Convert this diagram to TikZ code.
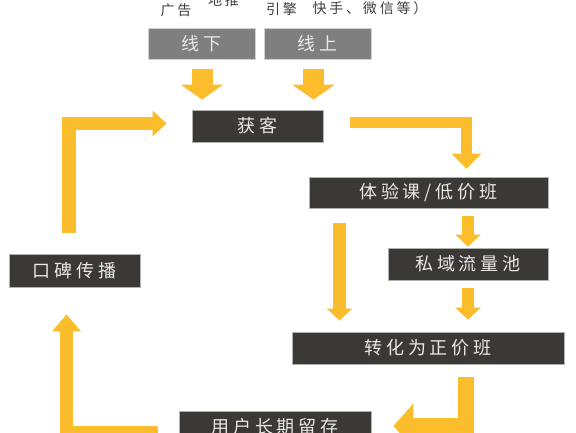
\documentclass[tikz,border=0pt]{standalone}
\usepackage{fontspec}
\setmainfont{Noto Sans CJK SC}
\newfontfamily\boxfont[LetterSpace=22]{Noto Sans CJK SC}
\newfontfamily\topfont[LetterSpace=20]{Noto Sans CJK SC}
\usetikzlibrary{arrows.meta,calc}
\definecolor{yel}{HTML}{FBBD2C}
\definecolor{boxdark}{HTML}{3B3936}
\definecolor{boxgray}{HTML}{7F7F7F}
\definecolor{boxtext}{HTML}{E8E8E8}
\definecolor{toptext}{HTML}{404040}
\begin{document}
\begin{tikzpicture}[x=1pt,y=-1pt,
  darkbox/.style={draw=gray!60, line width=0.8pt, fill=boxdark, text=boxtext, inner sep=0pt,
    font=\boxfont\fontsize{18}{18}\selectfont},
  graybox/.style={darkbox, fill=boxgray, draw=gray!35},
  toplabel/.style={text=toptext, inner sep=0pt, font=\topfont\fontsize{14}{14}\selectfont},
  yarr/.style={draw=yel, line join=miter}]
\useasboundingbox (0,0) rectangle (576,432);
\clip (0,0) rectangle (576,432);
\fill[white] (0,0) rectangle (576,432);

% top labels
\node[toplabel] (gg) at (176,10) {广告};
\node[toplabel] (dt) at (223.5,0) {地推};
\node[toplabel] (yq) at (281.5,9) {引擎};
\node[toplabel] (ks) at (370,8) {快手、微信等）};

% boxes
\node[graybox, minimum width=107pt, minimum height=31pt] (xx) at (201.5,43.5) {线下};
\node[graybox, minimum width=107pt, minimum height=31pt] (xs) at (317.5,43.5) {线上};
\node[darkbox, minimum width=131pt, minimum height=32pt] (hk) at (257.5,126) {获客};
\node[darkbox, minimum width=239pt, minimum height=31pt] (ty) at (428.5,192.5) {体验课/低价班};
\node[darkbox, minimum width=160pt, minimum height=32pt] (sy) at (468,264) {私域流量池};
\node[darkbox, minimum width=272pt, minimum height=32pt] (zh) at (428,348) {转化为正价班};
\node[darkbox, minimum width=192pt, minimum height=32pt] (yh) at (275,427) {用户长期留存};
\node[darkbox, minimum width=131pt, minimum height=33pt] (kb) at (74.5,270.5) {口碑传播};

% arrows
\draw[yarr, line width=21pt, -{Triangle[length=15pt,width=42pt]}]
  ($(xx.south)+(0.5,10)$) -- ($(hk.north)+(-55.5,-10)$);
\draw[yarr, line width=21pt, -{Triangle[length=15pt,width=42pt]}]
  ($(xs.south)+(-4,10)$) -- ($(hk.north)+(56,-10)$);
\draw[yarr, line width=13.5pt, -{Triangle[length=14pt,width=25pt]}]
  ($(kb.north)+(-5.5,-21)$) |- ($(hk.west)+(-25,-2.5)$);
\draw[yarr, line width=11.5pt, -{Triangle[length=15pt,width=29pt]}]
  ($(hk.east)+(27,-3.5)$) -| ($(ty.north)+(38,-8)$);
\draw[yarr, line width=12pt, -{Triangle[length=12pt,width=25pt]}]
  ($(ty.south)+(39.5,8)$) -- ($(sy.north)+(0,-1)$);
\draw[yarr, line width=13pt, -{Triangle[length=12pt,width=25pt]}]
  ($(ty.south)+(-89,15)$) -- ($(zh.north)+(-88.5,-11)$);
\draw[yarr, line width=12pt, -{Triangle[length=12pt,width=25pt]}]
  ($(sy.south)+(0,8)$) -- ($(zh.north)+(40,-12)$);
\draw[yarr, line width=16pt, -{Triangle[length=20pt,width=44pt]}]
  ($(zh.south)+(37.5,13)$) |- ($(yh.east)+(22,-1)$);
\draw[yarr, line width=13pt, -{Triangle[length=17pt,width=28pt]}]
  ($(yh.west)+(-21,5.5)$) -| ($(kb.south)+(-8,27)$);
\end{tikzpicture}
\end{document}
